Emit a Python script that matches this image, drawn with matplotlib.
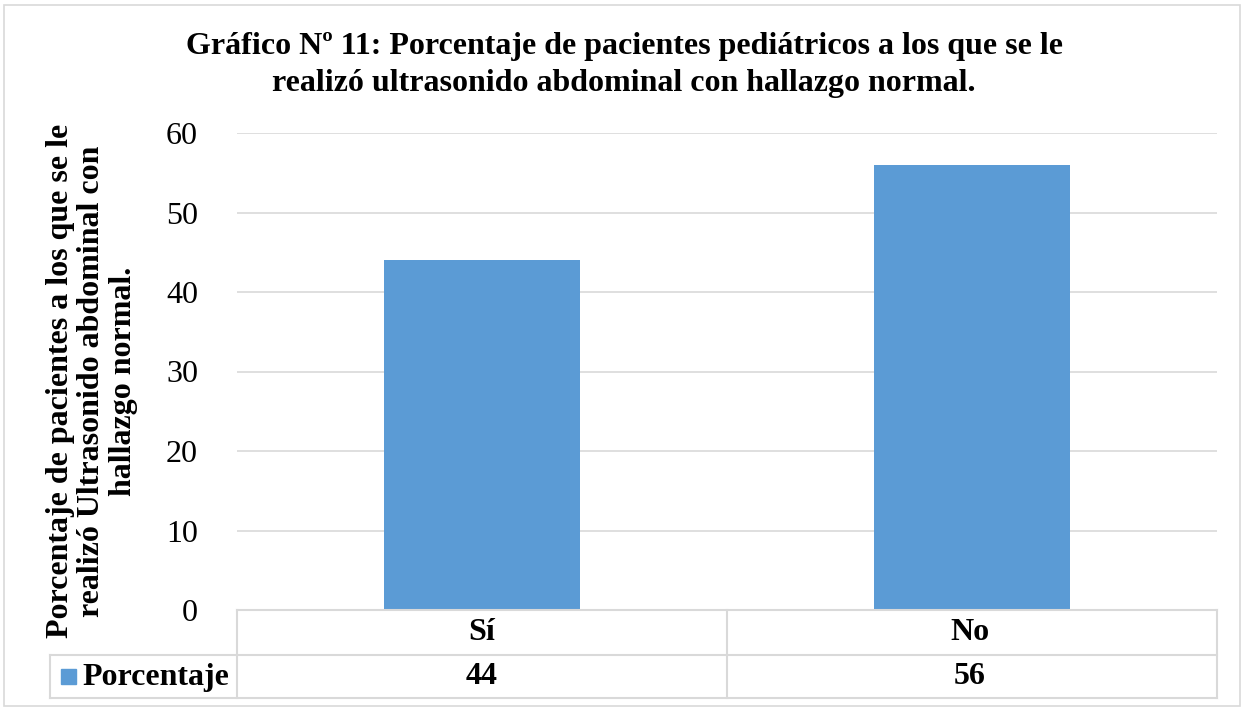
import matplotlib.pyplot as plt
from matplotlib.patches import Rectangle
from matplotlib.lines import Line2D

plt.rcParams['font.family'] = ['Liberation Serif', 'DejaVu Serif']

categorias = ['Sí', 'No']
porcentajes = [44, 56]
serie = 'Porcentaje'
yticks = [0, 10, 20, 30, 40, 50, 60]

W, H = 1244, 711
fig = plt.figure(figsize=(W / 100, H / 100), dpi=100)

def fx(px):
    return px / W

def fy(py):
    return 1 - py / H

# marco exterior
fig.add_artist(Rectangle((fx(4), fy(706)), fx(1240) - fx(4), fy(5) - fy(706),
                         transform=fig.transFigure, fill=False, edgecolor='#d9d9d9', lw=1.2))

# area del grafico
ax = fig.add_axes([fx(237), fy(610), fx(1217) - fx(237), fy(133) - fy(610)])
x = range(len(categorias))
ax.bar(x, porcentajes, width=0.4, color='#5b9bd5', zorder=3)
ax.set_xlim(-0.5, len(categorias) - 0.5)
ax.set_ylim(0, 60)
ax.set_yticks(yticks)
ax.set_yticklabels([str(t) for t in yticks], fontsize=23)
ax.set_xticks([])
ax.tick_params(axis='y', length=0, pad=28)
ax.grid(axis='y', color='#d9d9d9', lw=1.2, zorder=0)
for s in ax.spines.values():
    s.set_visible(False)

fig.text(fx(92), fy(381),
         'Porcentaje de pacientes a los que se le\nrealizó Ultrasonido abdominal con\nhallazgo normal.',
         ha='center', va='center', rotation=90, fontsize=23, fontweight='bold', linespacing=1.12)

fig.text(fx(624), fy(65),
         'Gráfico Nº 11: Porcentaje de pacientes pediátricos a los que se le\nrealizó ultrasonido abdominal con hallazgo normal.',
         ha='center', va='center', fontsize=23, fontweight='bold', linespacing=1.38)

# tabla de datos
tc = '#d9d9d9'
def hline(x0, x1, y):
    fig.add_artist(Line2D([fx(x0), fx(x1)], [fy(y), fy(y)], transform=fig.transFigure, color=tc, lw=1.5))

def vline(x, y0, y1):
    fig.add_artist(Line2D([fx(x), fx(x)], [fy(y0), fy(y1)], transform=fig.transFigure, color=tc, lw=1.5))

hline(237, 1217, 610)
hline(50, 1217, 655)
hline(50, 1217, 698)
vline(50, 655, 698)
vline(237, 610, 698)
vline(727, 610, 698)
vline(1217, 610, 698)

centros = [482, 970]
for c, cat, v in zip(centros, categorias, porcentajes):
    fig.text(fx(c), fy(633), cat, ha='center', va='center', fontsize=23, fontweight='bold')
    fig.text(fx(c), fy(677), str(v), ha='center', va='center', fontsize=23, fontweight='bold')

fig.add_artist(Rectangle((fx(61), fy(684)), fx(76) - fx(61), fy(669) - fy(684),
                         transform=fig.transFigure, color='#5b9bd5'))
fig.text(fx(82), fy(677), serie, ha='left', va='center', fontsize=23, fontweight='bold')

fig.savefig('out.png', dpi=100)
